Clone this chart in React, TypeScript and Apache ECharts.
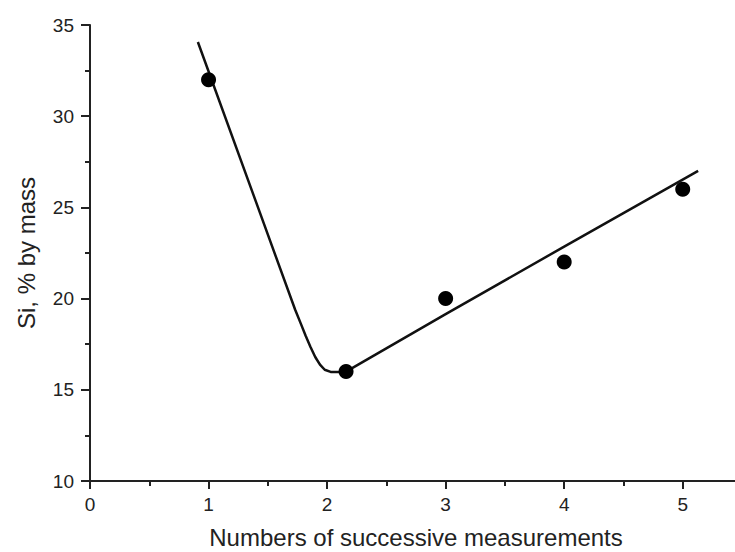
import React, { useEffect, useRef } from "react";
import * as echarts from "echarts";

const measuredX = [1, 2.16, 3, 4, 5];
const measuredSi = [32, 16, 20, 22, 26];

const fitX = [0.91, 1.73, 1.78, 1.82, 1.86, 1.9, 1.94, 1.98, 2.03, 2.1, 2.16, 3, 4, 5.13];
const fitSi = [34.07, 19.4, 18.6, 17.95, 17.35, 16.8, 16.38, 16.1, 15.98, 15.97, 16.0, 19.15, 22.85, 27.0];

const xTicks = [0, 1, 2, 3, 4, 5];
const yTicks = [10, 15, 20, 25, 30, 35];

export default function App() {
  const ref = useRef<HTMLDivElement>(null);
  useEffect(() => {
    if (!ref.current) return;
    const chart = echarts.init(ref.current, undefined, { renderer: "svg" });
    const font = "Liberation Sans, Arial, sans-serif";
    const axisColor = "#222";
    chart.setOption({
      animation: false,
      backgroundColor: "#fff",
      grid: { left: 90, top: 25, bottom: 71, right: -7, containLabel: false, outerBoundsMode: "none" },
      xAxis: {
        type: "value",
        min: 0,
        max: 5.5,
        interval: 1,
        name: "Numbers of successive measurements",
        nameLocation: "middle",
        nameGap: 46,
        nameTextStyle: { fontFamily: font, fontSize: 24, lineHeight: 20, color: axisColor },
        axisLine: { show: true, onZero: false, lineStyle: { color: axisColor, width: 2 } },
        axisTick: { show: true, inside: false, length: 8, lineStyle: { color: axisColor, width: 2 } },
        minorTick: { show: true, splitNumber: 2, length: 5, lineStyle: { color: axisColor, width: 2 } },
        splitLine: { show: false },
        axisLabel: {
          margin: 14,
          fontFamily: font,
          fontSize: 19,
          color: axisColor,
          formatter: (v: number) => (xTicks.includes(v) ? String(v) : ""),
        },
      },
      yAxis: {
        type: "value",
        min: 10,
        max: 35,
        interval: 5,
        name: "Si, % by mass",
        nameLocation: "middle",
        nameGap: 52,
        nameTextStyle: { fontFamily: font, fontSize: 24, color: axisColor },
        axisLine: { show: true, onZero: false, lineStyle: { color: axisColor, width: 2 } },
        axisTick: { show: true, inside: false, length: 9, lineStyle: { color: axisColor, width: 2 } },
        minorTick: { show: true, splitNumber: 2, length: 5, lineStyle: { color: axisColor, width: 2 } },
        splitLine: { show: false },
        axisLabel: {
          margin: 16,
          fontFamily: font,
          fontSize: 19,
          color: axisColor,
          formatter: (v: number) => (yTicks.includes(v) ? String(v) : ""),
        },
      },
      series: [
        {
          type: "line",
          data: fitX.map((x, i) => [x, fitSi[i]]),
          showSymbol: false,
          smooth: false,
          lineStyle: { color: "#111", width: 2.5 },
          z: 2,
        },
        {
          type: "scatter",
          data: measuredX.map((x, i) => [x, measuredSi[i]]),
          symbol: "circle",
          symbolSize: 15,
          itemStyle: { color: "#000", opacity: 1 },
          z: 3,
        },
      ],
    });
    return () => chart.dispose();
  }, []);
  return <div ref={ref} style={{ width: 735, height: 552, position: "absolute", left: 0, top: 0 }} />;
}
